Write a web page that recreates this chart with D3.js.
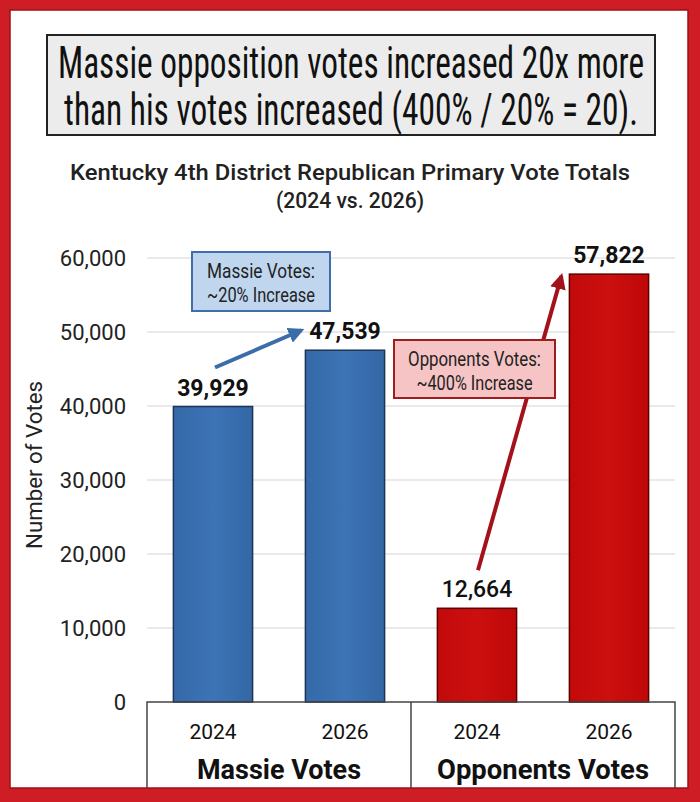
<!DOCTYPE html>
<html>
<head>
<meta charset="utf-8">
<script src="https://cdn.jsdelivr.net/npm/d3@7"></script>
<style>
  html, body { margin: 0; padding: 0; background: #fff; }
  svg { display: block; }
</style>
</head>
<body>
<script>
// data
var groups = ["Massie Votes", "Opponents Votes"];
var years = ["2024", "2026"];
var massieVotes = [39929, 47539];
var opponentVotes = [12664, 57822];
var yTicks = [0, 10000, 20000, 30000, 40000, 50000, 60000];
var headline = ["Massie opposition votes increased 20x more", "than his votes increased (400% / 20% = 20)."];
var chartTitle = ["Kentucky 4th District Republican Primary Vote Totals", "(2024 vs. 2026)"];
var notes = [["Massie Votes:", "~20% Increase"], ["Opponents Votes:", "~400% Increase"]];

var width = 700, height = 802;
var narrow = "'Liberation Sans Narrow', 'Roboto Condensed', 'Liberation Sans', sans-serif";
var roboto = "Roboto, 'Noto Sans', sans-serif";

// one row per bar
var rows = [];
groups.forEach(function(g, gi) {
    var vals = gi == 0 ? massieVotes : opponentVotes;
    years.forEach(function(yr, yi) {
        rows.push({group: g, gi: gi, year: yr, key: g + " " + yr, value: vals[yi]});
    });
});

var svg = d3.select("body").append("svg")
    .attr("width", width)
    .attr("height", height);

var defs = svg.append("defs");
var gb = defs.append("linearGradient").attr("id", "gBlue").attr("x1", 0).attr("x2", 1);
gb.append("stop").attr("offset", "0%").attr("stop-color", "#3569a8");
gb.append("stop").attr("offset", "50%").attr("stop-color", "#3d74b6");
gb.append("stop").attr("offset", "100%").attr("stop-color", "#3367a6");
var gr = defs.append("linearGradient").attr("id", "gRed").attr("x1", 0).attr("x2", 1);
gr.append("stop").attr("offset", "0%").attr("stop-color", "#c20a0a");
gr.append("stop").attr("offset", "50%").attr("stop-color", "#cc0f0f");
gr.append("stop").attr("offset", "100%").attr("stop-color", "#bf0808");

// red frame
svg.append("rect").attr("width", width).attr("height", height).attr("fill", "#cf1d26");
svg.append("rect").attr("x", 10).attr("y", 10).attr("width", 678).attr("height", 778)
    .attr("fill", "#fff").attr("stroke", "#9e1118").attr("stroke-width", 1.5);

// headline box
svg.append("rect").attr("x", 47).attr("y", 35).attr("width", 608).attr("height", 100)
    .attr("fill", "#ececec").attr("stroke", "#222").attr("stroke-width", 2);
svg.selectAll(".headline").data(headline).enter().append("text")
    .attr("x", 351).attr("y", function(d, i) { return 78 + i * 47; })
    .attr("text-anchor", "middle")
    .attr("font-family", narrow).attr("font-size", 44)
    .attr("textLength", function(d, i) { return i == 0 ? 586 : 574; })
    .attr("lengthAdjust", "spacingAndGlyphs")
    .attr("fill", "#111")
    .text(function(d) { return d; });

// chart title
svg.selectAll(".ctitle").data(chartTitle).enter().append("text")
    .attr("x", 350).attr("y", function(d, i) { return 180 + i * 28; })
    .attr("text-anchor", "middle")
    .attr("font-family", roboto).attr("font-weight", 500).attr("font-size", 22)
    .attr("textLength", function(d, i) { return i == 0 ? 560 : 148; })
    .attr("lengthAdjust", "spacingAndGlyphs")
    .attr("fill", "#222")
    .text(function(d) { return d; });

// scales
var x = d3.scaleBand()
    .domain(rows.map(function(d) { return d.key; }))
    .range([147, 675])
    .paddingInner(0.4)
    .paddingOuter(0.2);

var y = d3.scaleLinear()
    .domain([0, 60000])
    .range([702, 258]);

// grid + y axis
var yAxis = d3.axisLeft(y).tickValues(yTicks).tickSize(0).tickPadding(0)
    .tickFormat(d3.format(","));
var ya = svg.append("g").attr("transform", "translate(126,0)").call(yAxis);
ya.select(".domain").remove();
ya.selectAll("text")
    .attr("font-family", roboto).attr("font-size", 22).attr("fill", "#222")
    .attr("dy", "0.35em");

svg.append("g").selectAll("line").data(yTicks.slice(1)).enter().append("line")
    .attr("x1", 147).attr("x2", 675)
    .attr("y1", function(d) { return y(d); }).attr("y2", function(d) { return y(d); })
    .attr("stroke", "#e3e3e3").attr("stroke-width", 1.5);

svg.append("text")
    .attr("transform", "translate(42,465) rotate(-90)")
    .attr("text-anchor", "middle")
    .attr("font-family", roboto).attr("font-size", 22).attr("fill", "#222")
    .attr("textLength", 168).attr("lengthAdjust", "spacingAndGlyphs")
    .text("Number of Votes");

// bars
svg.append("g").selectAll("rect").data(rows).enter().append("rect")
    .attr("x", function(d) { return x(d.key); })
    .attr("y", function(d) { return y(d.value); })
    .attr("width", x.bandwidth())
    .attr("height", function(d) { return y(0) - y(d.value); })
    .attr("fill", function(d) { return d.gi == 0 ? "url(#gBlue)" : "url(#gRed)"; })
    .attr("stroke", function(d) { return d.gi == 0 ? "#1d3557" : "#5e0000"; })
    .attr("stroke-width", 1.5);

// value labels
svg.append("g").selectAll("text").data(rows).enter().append("text")
    .attr("x", function(d) { return x(d.key) + x.bandwidth() / 2; })
    .attr("y", function(d) { return y(d.value) - 11; })
    .attr("text-anchor", "middle")
    .attr("font-family", roboto)
    .attr("font-weight", function(d) { return d.gi == 0 || d.value > 50000 ? 700 : 500; })
    .attr("font-size", 23).attr("fill", "#111")
    .text(function(d) { return d3.format(",")(d.value); });

// category axis box
var axisG = svg.append("g");
axisG.append("path")
    .attr("d", "M147,788 V702 H675 V788 M411,702 V788")
    .attr("fill", "none").attr("stroke", "#444").attr("stroke-width", 1.5);
axisG.selectAll(".yr").data(rows).enter().append("text")
    .attr("x", function(d) { return x(d.key) + x.bandwidth() / 2; })
    .attr("y", 739)
    .attr("text-anchor", "middle")
    .attr("font-family", roboto).attr("font-size", 21).attr("fill", "#111")
    .text(function(d) { return d.year; });
axisG.selectAll(".grp").data(groups).enter().append("text")
    .attr("x", function(d) {
        var ks = rows.filter(function(r) { return r.group == d; });
        return (x(ks[0].key) + x(ks[1].key) + x.bandwidth()) / 2;
    })
    .attr("y", 779)
    .attr("text-anchor", "middle")
    .attr("font-family", roboto).attr("font-weight", 700).attr("font-size", 27)
    .attr("textLength", function(d, i) { return i == 0 ? 164 : 212; })
    .attr("lengthAdjust", "spacingAndGlyphs")
    .attr("fill", "#111")
    .text(function(d) { return d; });

// arrows
function arrowHead(id, col) {
    defs.append("marker").attr("id", id)
        .attr("viewBox", "0 0 10 10").attr("refX", 8).attr("refY", 5)
        .attr("markerWidth", 4).attr("markerHeight", 4).attr("orient", "auto")
        .append("path").attr("d", "M0,0 L10,5 L0,10 z").attr("fill", col);
}
arrowHead("aBlue", "#3b6dab");
arrowHead("aRed", "#a3121a");

var m0 = rows[0], m1 = rows[1], o0 = rows[2], o1 = rows[3];
svg.append("line")
    .attr("x1", x(m0.key) + x.bandwidth() / 2 + 2).attr("y1", y(m0.value) - 39)
    .attr("x2", x(m1.key) - 4).attr("y2", y(m1.value) - 20)
    .attr("stroke", "#3b6dab").attr("stroke-width", 4)
    .attr("marker-end", "url(#aBlue)");
svg.append("line")
    .attr("x1", x(o0.key) + x.bandwidth() / 2 + 1).attr("y1", y(o0.value) - 38)
    .attr("x2", x(o1.key) - 8).attr("y2", y(o1.value) + 2)
    .attr("stroke", "#a3121a").attr("stroke-width", 4)
    .attr("marker-end", "url(#aRed)");

// note boxes
var noteBoxes = [
    {x: 192, y: 252, w: 138, h: 59, fill: "#bfd6ee", stroke: "#3f6ea9", lines: notes[0]},
    {x: 394, y: 340, w: 161, h: 58, fill: "#f6c4c4", stroke: "#9e1d1d", lines: notes[1]}
];
noteBoxes.forEach(function(b) {
    var g = svg.append("g");
    g.append("rect").attr("x", b.x).attr("y", b.y).attr("width", b.w).attr("height", b.h)
        .attr("fill", b.fill).attr("stroke", b.stroke).attr("stroke-width", 2);
    g.selectAll("text").data(b.lines).enter().append("text")
        .attr("x", b.x + b.w / 2)
        .attr("y", function(d, i) { return b.y + 26 + i * 24; })
        .attr("text-anchor", "middle")
        .attr("font-family", roboto).attr("font-size", 20).attr("fill", "#222")
        .attr("textLength", function(d) { return d.length * 8.3; })
        .attr("lengthAdjust", "spacingAndGlyphs")
        .text(function(d) { return d; });
});
</script>
</body>
</html>
